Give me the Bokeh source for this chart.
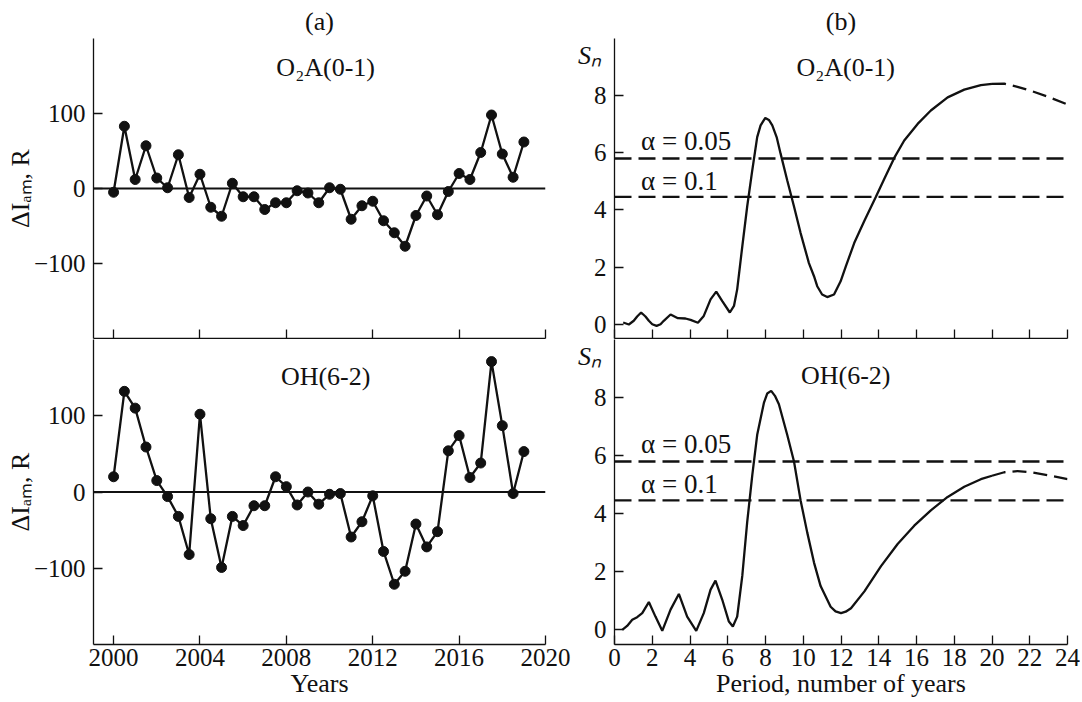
from bokeh.plotting import figure
from bokeh.models import Range1d, FixedTicker, Span, Label
from bokeh.layouts import column, row
from bokeh.embed import file_html
from bokeh.resources import INLINE

FONT = "Liberation Serif"
INK = "#111111"

# ---------------- data ----------------
years = [2000.0, 2000.5, 2001.0, 2001.5, 2002.0, 2002.5, 2003.0, 2003.5, 2004.0, 2004.5,
         2005.0, 2005.5, 2006.0, 2006.5, 2007.0, 2007.5, 2008.0, 2008.5, 2009.0, 2009.5,
         2010.0, 2010.5, 2011.0, 2011.5, 2012.0, 2012.5, 2013.0, 2013.5, 2014.0, 2014.5,
         2015.0, 2015.5, 2016.0, 2016.5, 2017.0, 2017.5, 2018.0, 2018.5, 2019.0]
o2a_dev = [-5, 83, 12, 57, 14, 1, 45, -12, 19, -25, -37, 7, -11, -11, -28, -19, -19, -3, -6, -19,
           1, -1, -41, -23, -17, -43, -59, -77, -36, -10, -35, -4, 20, 12, 48, 98, 46, 15, 62]
oh_dev = [20, 132, 110, 59, 15, -6, -32, -82, 102, -35, -99, -32, -44, -18, -18, 20, 7, -17, 0, -16,
          -3, -2, -59, -39, -5, -78, -121, -104, -42, -72, -52, 54, 74, 19, 38, 171, 87, -2, 53]

period_o2a = [0.46, 0.76, 1.02, 1.2, 1.41, 1.64, 1.82, 2.0, 2.23, 2.44, 2.61, 2.97, 3.36, 3.76,
              4.03, 4.42, 4.73, 5.09, 5.39, 5.71, 6.11, 6.33, 6.5, 6.77, 7.03, 7.3, 7.56, 7.74,
              7.99, 8.18, 8.36, 8.59, 8.8, 9.15, 9.51, 9.86, 10.3, 10.57, 10.74, 11.0, 11.27,
              11.63, 11.98, 12.26, 12.7, 13.24, 13.85, 14.29, 14.82, 15.35, 16.06, 16.76, 17.65,
              18.53, 19.41, 20.0]
sn_o2a = [0.06, -0.01, 0.12, 0.27, 0.41, 0.27, 0.12, 0.0, -0.06, 0.0, 0.12, 0.34, 0.21, 0.2,
          0.15, 0.05, 0.29, 0.87, 1.14, 0.81, 0.41, 0.64, 1.22, 2.72, 4.12, 5.39, 6.55, 6.96,
          7.22, 7.15, 6.96, 6.55, 5.97, 5.04, 4.12, 3.19, 2.14, 1.68, 1.33, 1.04, 0.95,
          1.04, 1.5, 2.03, 2.84, 3.62, 4.46, 5.08, 5.82, 6.43, 7.01, 7.48, 7.94,
          8.21, 8.37, 8.41]
period_o2a_ext = [20.0, 20.65, 21.35, 22.06, 22.94, 24.0]
sn_o2a_ext = [8.41, 8.42, 8.31, 8.17, 7.97, 7.69]

period_oh = [0.41, 0.67, 0.94, 1.2, 1.47, 1.82, 2.17, 2.53, 2.97, 3.41, 3.85, 4.33, 4.73, 5.09,
             5.35, 5.71, 6.06, 6.27, 6.5, 6.77, 7.03, 7.3, 7.56, 7.92, 8.09, 8.3, 8.5, 8.71, 9.15,
             9.51, 9.86, 10.21, 10.57, 10.92, 11.45, 11.71, 12.0, 12.25, 12.53, 13.24, 14.12,
             15.0, 15.88, 16.76, 17.65, 18.53, 19.41, 20.0]
sn_oh = [0.0, 0.14, 0.35, 0.44, 0.58, 0.96, 0.46, -0.03, 0.7, 1.24, 0.46, -0.03, 0.58, 1.39,
         1.7, 1.04, 0.29, 0.12, 0.46, 1.86, 3.71, 5.33, 6.72, 7.83, 8.14, 8.23, 8.06, 7.77, 6.72,
         5.8, 4.46, 3.36, 2.32, 1.51, 0.8, 0.64, 0.58, 0.63, 0.75, 1.33, 2.2,
         2.96, 3.59, 4.12, 4.58, 4.93, 5.19, 5.31]
period_oh_ext = [20.0, 20.65, 21.35, 22.06, 22.94, 24.0]
sn_oh_ext = [5.31, 5.43, 5.47, 5.43, 5.33, 5.19]

alpha_levels = [5.8, 4.46]
alpha_labels = ["α = 0.05", "α = 0.1"]
alpha_label_y = [6.4, 5.02]

year_ticks = [2000, 2004, 2008, 2012, 2016, 2020]
dev_ticks = [-100, 0, 100]
dev_tick_labels = ["\u2212100", "0", "100"]
period_ticks = [0, 2, 4, 6, 8, 10, 12, 14, 16, 18, 20, 22, 24]
sn_ticks = [0, 2, 4, 6, 8]

series_names = ["O\u2082A(0-1)", "OH(6-2)"]
panel_letters = ["(a)", "(b)"]
ylabel_left = "\u0394I\u2090\u2098, R"
ylabel_right = "S\u2099"
xlabel_left = "Years"
xlabel_right = "Period, number of years"


def style_axes(p, show_x_labels, xlabel=None):
    for ax in (p.xaxis[0], p.yaxis[0]):
        ax.axis_line_width = 1.3
        ax.axis_line_color = INK
        ax.major_tick_line_color = INK
        ax.major_tick_line_width = 1.3
        ax.major_tick_in = 9
        ax.major_tick_out = 0
        ax.minor_tick_line_color = None
        ax.major_label_text_font = FONT
        ax.major_label_text_font_size = "25px"
        ax.major_label_text_color = INK
        ax.axis_label_text_font = FONT
        ax.axis_label_text_font_size = "26px"
        ax.axis_label_text_font_style = "normal"
        ax.axis_label_text_color = INK
    p.yaxis[0].major_label_standoff = 8
    if show_x_labels:
        p.xaxis[0].major_label_standoff = 4
        p.xaxis[0].axis_label = xlabel
        p.xaxis[0].axis_label_standoff = 0
    else:
        p.xaxis[0].major_label_text_font_size = "1px"
        p.xaxis[0].major_label_text_color = None
        p.xaxis[0].major_label_standoff = 0
    p.outline_line_color = None
    p.xgrid.visible = False
    p.ygrid.visible = False
    p.background_fill_color = "white"
    p.border_fill_color = "white"


def text_label(p, x, y, text, align="center", baseline="middle", size="26px"):
    p.add_layout(Label(x=x, y=y, text=text, text_font=FONT, text_font_size=size,
                       text_align=align, text_baseline=baseline, text_color=INK))


def set_title(p, text):
    p.title.text = text
    p.title.align = "center"
    p.title.offset = 8
    p.title.text_font = FONT
    p.title.text_font_size = "26px"
    p.title.text_font_style = "normal"
    p.title.text_color = INK
    p.title.standoff = 5


TOP_H = 339
BOT_H = 363
LEFT_W = 572
RIGHT_W = 508


def left_panel(values, name, top):
    p = figure(width=LEFT_W, height=TOP_H if top else BOT_H,
               x_range=Range1d(1999.07, 2020), y_range=Range1d(-200, 200),
               output_backend="svg", toolbar_location=None,
               min_border_left=93, min_border_right=27,
               min_border_top=38 if top else 0, min_border_bottom=1 if top else 58)
    style_axes(p, not top, xlabel_left)
    p.yaxis[0].axis_label = ylabel_left
    p.yaxis[0].axis_label_standoff = -4
    p.xaxis[0].ticker = FixedTicker(ticks=year_ticks)
    p.yaxis[0].ticker = FixedTicker(ticks=dev_ticks)
    p.yaxis[0].major_label_overrides = dict(zip(dev_ticks, dev_tick_labels))
    p.add_layout(Span(location=0, dimension="width", line_color=INK, line_width=2.2))
    p.line(years, values, line_color=INK, line_width=2.3)
    p.scatter(years, values, size=10, fill_color=INK, line_color=INK)
    text_label(p, 2009.82, 161 if top else 151, name)
    if top:
        set_title(p, panel_letters[0])
    return p


def right_panel(per, sn, per_ext, sn_ext, name, top):
    p = figure(width=RIGHT_W, height=TOP_H if top else BOT_H,
               x_range=Range1d(0, 24), y_range=Range1d(-0.5, 10),
               output_backend="svg", toolbar_location=None,
               min_border_left=42, min_border_right=13,
               min_border_top=38 if top else 0, min_border_bottom=1 if top else 58)
    style_axes(p, not top, xlabel_right)
    yax = p.yaxis[0]
    yax.axis_label = "\n" + ylabel_right
    yax.axis_label_text_font_style = "italic"
    try:
        yax.axis_label_orientation = "horizontal"
        yax.axis_label_align = "end"
        yax.axis_label_standoff = -10
    except Exception:
        yax.axis_label = ylabel_right
        yax.axis_label_standoff = -12
    p.xaxis[0].ticker = FixedTicker(ticks=period_ticks)
    yax.ticker = FixedTicker(ticks=sn_ticks)
    for lev, lab, ly in zip(alpha_levels, alpha_labels, alpha_label_y):
        p.add_layout(Span(location=lev, dimension="width", line_color=INK,
                          line_width=2.3, line_dash="17 7"))
        text_label(p, 1.41, ly, lab, align="left", size="27px")
    p.line(per, sn, line_color=INK, line_width=2.3)
    p.line(per_ext, sn_ext, line_color=INK, line_width=2.3, line_dash="14 7")
    text_label(p, 12.25, 9.0 if top else 8.75, name)
    if top:
        set_title(p, panel_letters[1])
    return p


p_tl = left_panel(o2a_dev, series_names[0], True)
p_bl = left_panel(oh_dev, series_names[1], False)
p_tr = right_panel(period_o2a, sn_o2a, period_o2a_ext, sn_o2a_ext, series_names[0], True)
p_br = right_panel(period_oh, sn_oh, period_oh_ext, sn_oh_ext, series_names[1], False)

layout = column(row(p_tl, p_tr), row(p_bl, p_br))

with open("out.html", "w") as f:
    f.write(file_html(layout, INLINE))
